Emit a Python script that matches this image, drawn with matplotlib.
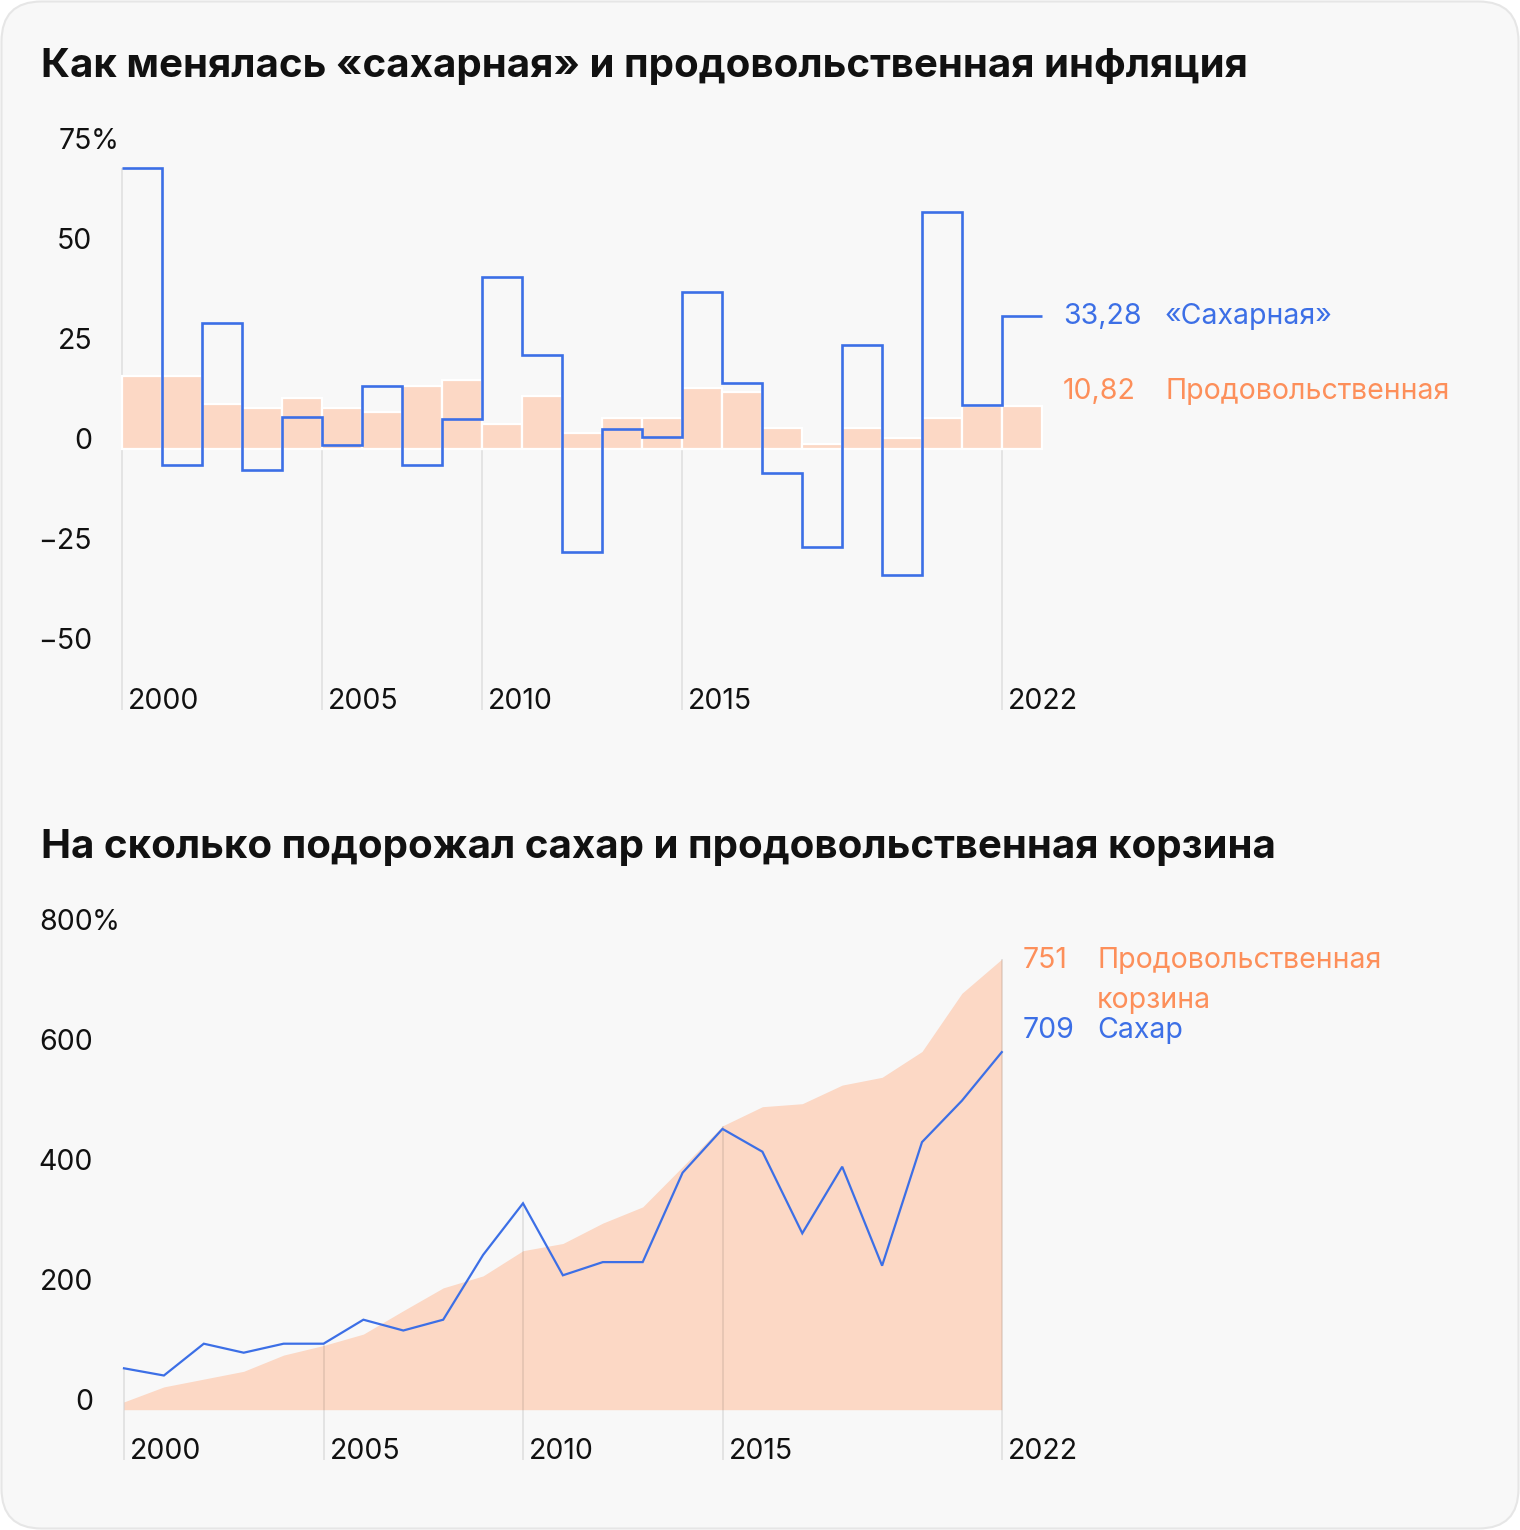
import numpy as np
import matplotlib
matplotlib.use("Agg")
import matplotlib.pyplot as plt
from matplotlib.patches import FancyBboxPatch
from matplotlib import transforms

plt.rcParams['font.family'] = ['Inter', 'DejaVu Sans']

# ---------------- data ----------------
years = np.arange(2000, 2023)

# annual inflation, %
sugar_infl = [70.3, -4.1, 31.4, -5.2, 7.9, 0.9, 15.8, -4.1, 7.4, 42.9, 23.4, -25.7,
              4.9, 2.9, 39.3, 16.4, -6.1, -24.6, 25.9, -31.6, 59.3, 10.9, 33.28]
food_infl = [18.2, 18.2, 11.2, 10.2, 12.7, 10.2, 9.2, 15.7, 17.2, 6.2, 13.2, 4.1,
             7.7, 7.7, 15.2, 14.2, 5.2, 1.2, 5.2, 2.7, 7.7, 10.7, 10.82]

# cumulative growth since 1999, %
food_cum = [13, 38, 51, 64, 91, 107, 126, 165, 203, 223, 265, 277, 311, 338, 405,
            473, 505, 510, 541, 554, 597, 694, 751]
sugar_cum = [69, 57, 110, 95, 110, 110, 150, 132, 150, 258, 344, 224, 246, 246, 395,
             468, 430, 294, 405, 240, 446, 515, 596]

top_tick_pos = [2000, 2005, 2009, 2014, 2022]
top_tick_labels = ['2000', '2005', '2010', '2015', '2022']
top_yticks = [-50, -25, 0, 25, 50, 75]
top_ytick_labels = ['−50', '−25', '0', '25', '50', '75']

bot_tick_pos = [2000, 2005, 2010, 2015, 2022]
bot_tick_labels = ['2000', '2005', '2010', '2015', '2022']
bot_yticks = [0, 200, 400, 600, 800]
bot_ytick_labels = ['0', '200', '400', '600', '800']

title1 = 'Как менялась «сахарная» и продовольственная инфляция'
title2 = 'На сколько подорожал сахар и продовольственная корзина'

# ---------------- style ----------------
W, H = 1520, 1530
BLUE = '#3c6fe6'
ORANGE = '#fd8f5a'
PEACH = '#fcd8c5'
GRID = '#e2e2e2'
BG = '#f8f8f8'
TXT = '#111111'
FS = 20.5

fig = plt.figure(figsize=(W / 100, H / 100), dpi=100)
fig.patch.set_facecolor('white')

# background panel (pixel coords)
bg = fig.add_axes([0, 0, 1, 1], zorder=-10)
bg.set_xlim(0, W)
bg.set_ylim(H, 0)
bg.axis('off')
bg.add_patch(FancyBboxPatch((1.5, 1.5), W - 3, H - 3,
                            boxstyle='round,pad=0,rounding_size=40',
                            facecolor=BG, edgecolor='#e6e6e6', linewidth=1.5))

def ptext(x, y, s, **kw):
    kw.setdefault('fontsize', FS)
    kw.setdefault('color', TXT)
    kw.setdefault('va', 'baseline')
    bg.text(x, y, s, **kw)

# titles
ptext(41, 77, title1, fontsize=29, fontweight='bold')
ptext(41, 858, title2, fontsize=29, fontweight='bold')

# ---------------- top chart ----------------
# pixel mapping: x_px = 122 + 40*(yr-2000); y_px = 449 - 4*v ; axes covers px y 120..720
Y0, SY = 449, 4.0
ax1 = fig.add_axes([0, 1 - 720 / H, 1, 600 / H])
ax1.set_facecolor('none')
ax1.set_xlim(2000 - 122 / 40, 2000 + (W - 122) / 40)
ax1.set_ylim((Y0 - 720) / SY, (Y0 - 120) / SY)
ax1.axis('off')

grid_bottom1 = (Y0 - 710) / SY
for p in top_tick_pos:
    top = sugar_infl[0] if p == years[0] else 0
    ax1.vlines(p, grid_bottom1, top, color=GRID, lw=1.3, zorder=1)

ax1.bar(years, food_infl, width=1, align='edge', color=PEACH,
        edgecolor='white', linewidth=1.6, zorder=2)
ax1.stairs(sugar_infl, np.append(years, years[-1] + 1), baseline=None,
           color=BLUE, lw=1.9, zorder=3)

off1 = transforms.offset_copy(ax1.transData, fig=fig, x=6, y=0, units='dots')
for p, lab in zip(top_tick_pos, top_tick_labels):
    ax1.text(p, grid_bottom1 + 0.25, lab, transform=off1, fontsize=FS, color=TXT,
             ha='left', va='baseline')

ytr1 = transforms.blended_transform_factory(bg.transData, ax1.transData)
for v, lab in zip(top_yticks, top_ytick_labels):
    ax1.text(92, v, lab, transform=ytr1, fontsize=FS, color=TXT, ha='right', va='baseline')
ax1.text(90.5, top_yticks[-1], '%', transform=ytr1, fontsize=FS, color=TXT,
         ha='left', va='baseline')

# labels at right
ptext(1063, 324, f'{sugar_infl[-1]:.2f}'.replace('.', ','), color=BLUE)
ptext(1165, 324, '«Сахарная»', color=BLUE)
ptext(1063, 399, f'{food_infl[-1]:.2f}'.replace('.', ','), color=ORANGE)
ptext(1165, 399, 'Продовольственная', color=ORANGE)

# ---------------- bottom chart ----------------
Y1, SY2 = 1409.7, 0.6
X1, SX2 = 124, 39.9
ax2 = fig.add_axes([0, 1 - 1475 / H, 1, (1475 - 880) / H])
ax2.set_facecolor('none')
ax2.set_xlim(2000 - X1 / SX2, 2000 + (W - X1) / SX2)
ax2.set_ylim((Y1 - 1475) / SY2, (Y1 - 880) / SY2)
ax2.axis('off')

ax2.fill_between(years, 0, food_cum, color=PEACH, lw=0, zorder=1)
ax2.plot(years, sugar_cum, color=BLUE, lw=1.6, zorder=3, solid_joinstyle='miter')

grid_bottom2 = (Y1 - 1460) / SY2
for p in bot_tick_pos:
    i = list(years).index(p)
    top = max(food_cum[i], sugar_cum[i])
    ax2.vlines(p, grid_bottom2, top, color='black', alpha=0.09, lw=1.3, zorder=2)

off2 = transforms.offset_copy(ax2.transData, fig=fig, x=6, y=0, units='dots')
for p, lab in zip(bot_tick_pos, bot_tick_labels):
    ax2.text(p, grid_bottom2 + 1.5, lab, transform=off2, fontsize=FS, color=TXT,
             ha='left', va='baseline')

ytr2 = transforms.blended_transform_factory(bg.transData, ax2.transData)
for v, lab in zip(bot_yticks, bot_ytick_labels):
    ax2.text(93, v, lab, transform=ytr2, fontsize=FS, color=TXT, ha='right', va='baseline')
ax2.text(91.5, bot_yticks[-1], '%', transform=ytr2, fontsize=FS, color=TXT,
         ha='left', va='baseline')

ptext(1023, 968, '751', color=ORANGE)
ptext(1097, 968, 'Продовольственная', color=ORANGE)
ptext(1097, 1008, 'корзина', color=ORANGE)
ptext(1023, 1038, '709', color=BLUE)
ptext(1097, 1038, 'Сахар', color=BLUE)

fig.savefig('out.png', dpi=100, facecolor='white')
